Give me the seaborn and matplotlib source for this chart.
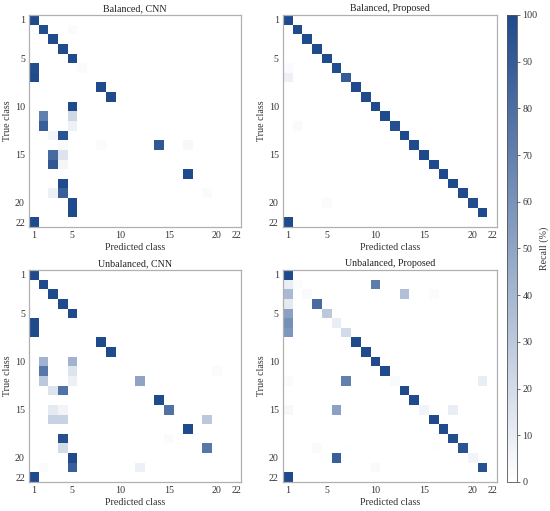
import numpy as np
import pandas as pd
import seaborn as sns
import matplotlib
matplotlib.use("Agg")
import matplotlib.pyplot as plt
from matplotlib.colors import LinearSegmentedColormap

n_classes = 22
tick_classes = [1, 5, 10, 15, 20, 22]
titles = ["Balanced, CNN", "Balanced, Proposed", "Unbalanced, CNN", "Unbalanced, Proposed"]

# (true class, predicted class, recall %) -- non-zero cells only
balanced_cnn = [
    (1, 1, 100), (2, 2, 98), (2, 5, 2), (3, 3, 100), (4, 4, 100), (5, 5, 100),
    (6, 1, 98), (6, 6, 2), (7, 1, 100), (8, 8, 100), (9, 9, 100), (10, 5, 100),
    (11, 2, 70), (11, 5, 22), (12, 2, 88), (12, 5, 8), (13, 3, 5), (13, 4, 95),
    (14, 4, 3), (14, 8, 2), (14, 14, 92), (14, 17, 4), (15, 3, 82), (15, 4, 15),
    (16, 3, 92), (16, 4, 5), (17, 17, 100), (18, 4, 100), (19, 3, 8), (19, 4, 88),
    (19, 19, 2), (20, 5, 100), (21, 5, 100), (22, 1, 100),
]
balanced_proposed = [
    (1, 1, 100), (2, 2, 100), (3, 3, 100), (4, 4, 100), (5, 5, 100), (6, 6, 98),
    (6, 1, 2), (7, 7, 90), (7, 1, 8), (8, 8, 100), (9, 9, 100), (10, 10, 100),
    (11, 11, 100), (12, 12, 97), (12, 2, 3), (13, 13, 100), (14, 14, 100),
    (15, 15, 100), (16, 16, 100), (17, 17, 100), (18, 18, 100), (19, 19, 100),
    (20, 20, 98), (20, 5, 2), (21, 21, 100), (22, 1, 100),
]
unbalanced_cnn = [
    (1, 1, 100), (2, 2, 100), (3, 3, 100), (4, 4, 100), (5, 5, 100), (6, 1, 100),
    (7, 1, 100), (8, 8, 100), (9, 9, 100), (10, 2, 42), (10, 5, 42),
    (11, 2, 75), (11, 5, 15), (11, 20, 2), (12, 2, 30), (12, 5, 8), (12, 12, 50),
    (13, 3, 15), (13, 4, 78), (14, 14, 100), (15, 3, 12), (15, 4, 6), (15, 15, 78),
    (16, 3, 25), (16, 4, 25), (16, 19, 30), (17, 17, 100), (18, 4, 97), (18, 15, 2),
    (19, 4, 20), (19, 19, 75), (20, 5, 100), (21, 2, 2), (21, 5, 88), (21, 12, 8),
    (22, 1, 100),
]
unbalanced_proposed = [
    (1, 1, 100), (2, 1, 10), (2, 2, 2), (2, 10, 72), (3, 1, 38), (3, 3, 3),
    (3, 13, 35), (3, 16, 2), (4, 1, 12), (4, 4, 82), (5, 1, 52), (5, 5, 30),
    (6, 1, 62), (6, 6, 10), (7, 1, 58), (7, 7, 20), (8, 8, 100), (9, 9, 100),
    (10, 10, 100), (11, 11, 100), (12, 1, 2), (12, 7, 70), (12, 12, 3), (12, 21, 10),
    (13, 13, 100), (14, 14, 100), (15, 1, 4), (15, 6, 52), (15, 15, 7), (15, 18, 10),
    (16, 16, 100), (17, 17, 100), (18, 1, 1), (18, 18, 98), (19, 4, 2), (19, 7, 1),
    (19, 16, 1), (19, 19, 95), (20, 5, 1), (20, 6, 88), (20, 20, 6), (21, 10, 3),
    (21, 21, 96), (22, 1, 100),
]


def to_matrix(entries):
    df = pd.DataFrame(entries, columns=["true", "pred", "recall"])
    mat = df.pivot_table(index="true", columns="pred", values="recall", aggfunc="sum")
    return mat.reindex(index=range(1, n_classes + 1), columns=range(1, n_classes + 1)).fillna(0)


sns.set_style("white")
plt.rcParams["font.family"] = ["Liberation Serif", "DejaVu Serif"]
plt.rcParams["font.size"] = 7.2

cmap = LinearSegmentedColormap.from_list("recall", ["#ffffff", "#1f4a8c"])
spine_col = "#b0b0b0"

fig = plt.figure(figsize=(5.5, 5.11), dpi=100)
positions = [
    [0.0527, 0.5558, 0.3855, 0.4149],
    [0.5145, 0.5558, 0.3891, 0.4149],
    [0.0527, 0.0568, 0.3855, 0.4149],
    [0.5145, 0.0568, 0.3891, 0.4149],
]
panels = [balanced_cnn, balanced_proposed, unbalanced_cnn, unbalanced_proposed]

for pos, entries, title in zip(positions, panels, titles):
    ax = fig.add_axes(pos)
    sns.heatmap(to_matrix(entries), ax=ax, cmap=cmap, vmin=0, vmax=100, cbar=False,
                xticklabels=False, yticklabels=False)
    ticks = [c - 0.5 for c in tick_classes]
    ax.set_xticks(ticks)
    ax.set_xticklabels([str(c) for c in tick_classes], rotation=0)
    ax.set_yticks(ticks)
    ax.set_yticklabels([str(c) for c in tick_classes], rotation=0)
    ax.tick_params(length=0, pad=3, labelsize=7.2, colors="#333333")
    ax.set_xlabel("Predicted class", fontsize=7.2, color="#333333", labelpad=2)
    ax.set_ylabel("True class", fontsize=7.2, color="#333333", labelpad=2)
    ax.set_title(title, fontsize=7.2, color="#222222", pad=3)
    for s in ax.spines.values():
        s.set_visible(True)
        s.set_color(spine_col)
        s.set_linewidth(0.9)
    last = ax

cax = fig.add_axes([0.9218, 0.0568, 0.0182, 0.9139])
cb = fig.colorbar(last.collections[0], cax=cax, ticks=range(0, 101, 10))
cb.outline.set_edgecolor("#555555")
cb.outline.set_linewidth(0.6)
cax.tick_params(length=2, width=0.5, labelsize=7.2, colors="#333333", pad=2)
cb.set_label("Recall (%)", fontsize=7.2, color="#333333", labelpad=1)

fig.savefig("out.png", dpi=100)
